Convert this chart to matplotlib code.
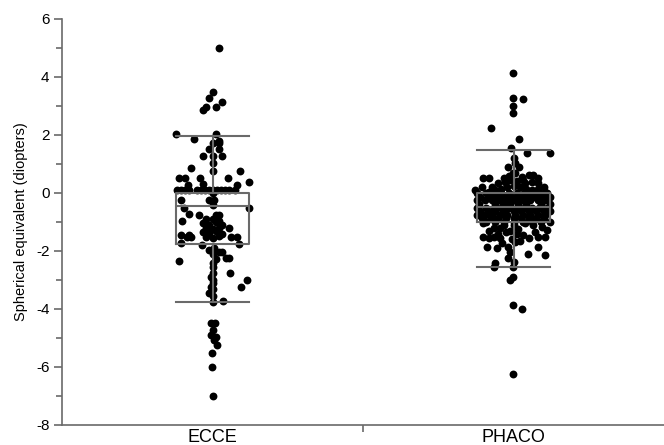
import numpy as np
import matplotlib
matplotlib.use('Agg')
import matplotlib.pyplot as plt
from matplotlib.ticker import MultipleLocator, FixedLocator

plt.rcParams['font.family'] = ['Liberation Sans', 'DejaVu Sans']

groups = ['ECCE', 'PHACO']

# box statistics
box_q1 = [-1.77, -0.99]
box_med = [-0.44, -0.47]
box_q3 = [0.0, 0.0]
whisk_lo = [-3.75, -2.54]
whisk_hi = [1.95, 1.5]

# (horizontal jitter, spherical equivalent) for each eye
ecce_points = [
    (0.02, 5.0), (0.0, 3.5), (-0.01, 3.26), (0.03, 3.13), (0.01, 2.98),
    (-0.02, 2.98), (-0.03, 2.86), (-0.12, 2.02), (-0.06, 1.86), (0.01, 2.03),
    (0.02, 1.8), (0.0, 1.71), (0.02, 1.71), (-0.01, 1.51), (0.02, 1.51),
    (-0.03, 1.28), (0.0, 1.28), (0.03, 1.28), (0.0, 1.02), (-0.07, 0.87),
    (0.0, 0.76), (0.09, 0.76), (-0.11, 0.51), (-0.09, 0.51), (-0.04, 0.51),
    (0.05, 0.51), (0.12, 0.39), (-0.08, 0.28), (-0.03, 0.3), (0.08, 0.28),
    (-0.118, 0.1), (-0.105, 0.1), (-0.09, 0.1), (-0.078, 0.1), (-0.05, 0.1),
    (-0.038, 0.1), (-0.025, 0.1), (-0.012, 0.1), (0.0, 0.1), (0.015, 0.1),
    (0.028, 0.1), (0.04, 0.1), (0.055, 0.1), (0.075, 0.1), (0.0, 0.0),
    (-0.106, -0.24), (-0.01, -0.24), (0.005, -0.24), (-0.094, -0.53), (0.0, -0.41),
    (0.12, -0.5), (-0.078, -0.73), (-0.045, -0.76), (0.01, -0.76), (0.02, -0.76),
    (-0.1, -0.97), (-0.02, -0.9), (0.0, -0.88), (0.02, -0.95), (-0.03, -1.05),
    (-0.01, -1.1), (0.01, -1.0), (0.03, -1.12), (-0.02, -1.2), (0.0, -1.25),
    (0.02, -1.22), (-0.03, -1.35), (-0.01, -1.38), (0.01, -1.3), (0.03, -1.4),
    (-0.02, -1.5), (0.0, -1.55), (0.02, -1.48), (0.055, -1.22), (-0.084, -1.51),
    (-0.073, -1.51), (0.06, -1.51), (0.082, -1.51), (-0.106, -1.73), (0.088, -1.77),
    (-0.034, -1.8), (-0.012, -1.97), (0.005, -1.9), (0.033, -2.02), (0.055, -2.23),
    (-0.11, -2.34), (0.044, -2.23), (-0.106, -1.45), (-0.078, -1.45), (0.022, -2.02),
    (0.01, -2.29), (0.058, -2.75), (0.0, -2.54), (0.0, -2.77), (0.0, -3.0),
    (0.115, -3.0), (0.095, -3.25), (-0.006, -3.23), (-0.012, -3.46), (0.0, -3.75),
    (0.035, -3.72), (-0.006, -4.49), (0.007, -4.49), (0.0, -4.72), (-0.006, -4.9),
    (0.01, -4.95), (0.005, -5.07), (0.016, -5.24), (-0.003, -5.5), (-0.003, -5.99),
    (0.003, -6.99), (0.0, -2.1), (0.0, -2.4), (0.0, -3.1), (0.0, -3.3),
    (0.0, -3.55), (-0.005, -2.9),
]

phaco_points = [
    (-0.003, 4.13), (-0.003, 3.27), (0.033, 3.24), (-0.003, 3.01), (-0.003, 2.75),
    (-0.075, 2.25), (0.017, 1.86), (-0.008, 1.54), (0.044, 1.37), (0.12, 1.37),
    (0.0, 1.2), (0.006, 1.02), (-0.017, 0.91), (0.017, 0.91), (-0.1, 0.51),
    (-0.083, 0.51), (-0.003, 0.68), (0.006, 0.68), (-0.033, 0.51), (0.028, 0.56),
    (0.05, 0.62), (0.066, 0.62), (0.083, 0.51), (-0.127, 0.1), (-0.106, 0.22),
    (-0.073, 0.22), (-0.05, 0.33), (-0.028, 0.39), (0.039, 0.33), (0.06, 0.39),
    (0.083, 0.33), (0.105, 0.04), (-0.01, 0.45), (0.01, 0.4), (-0.04, 0.15),
    (-0.02, 0.2), (0.0, 0.25), (0.02, 0.2), (0.04, 0.15), (0.06, 0.1),
    (0.08, 0.15), (-0.06, 0.1), (-0.08, 0.05), (0.1, 0.2), (0.03, 0.45),
    (-0.015, 0.6),
    # dense block inside the box
    (-0.12, 0.0), (-0.09, 0.0), (-0.065, 0.0), (-0.04, 0.0), (-0.015, 0.0),
    (0.01, 0.0), (0.035, 0.0), (0.06, 0.0), (0.085, 0.0), (0.11, 0.0),
    (-0.11, -0.125), (-0.08, -0.125), (-0.055, -0.125), (-0.03, -0.125), (-0.005, -0.125),
    (0.02, -0.125), (0.045, -0.125), (0.07, -0.125), (0.095, -0.125), (0.12, -0.125),
    (-0.12, -0.25), (-0.095, -0.25), (-0.07, -0.25), (-0.045, -0.25), (-0.02, -0.25),
    (0.005, -0.25), (0.03, -0.25), (0.055, -0.25), (0.08, -0.25), (0.105, -0.25),
    (-0.115, -0.375), (-0.06, -0.375), (-0.035, -0.375), (-0.01, -0.375), (0.015, -0.375),
    (0.04, -0.375), (0.09, -0.375), (0.12, -0.375),
    (-0.12, -0.5), (-0.09, -0.5), (-0.065, -0.5), (-0.04, -0.5), (-0.015, -0.5),
    (0.01, -0.5), (0.035, -0.5), (0.06, -0.5), (0.085, -0.5), (0.11, -0.5),
    (-0.11, -0.625), (-0.085, -0.625), (-0.06, -0.625), (-0.03, -0.625), (0.0, -0.625),
    (0.025, -0.625), (0.05, -0.625), (0.075, -0.625), (0.1, -0.625), (0.12, -0.625),
    (-0.12, -0.75), (-0.095, -0.75), (-0.07, -0.75), (-0.045, -0.75), (-0.02, -0.75),
    (0.005, -0.75), (0.03, -0.75), (0.055, -0.75), (0.08, -0.75), (0.105, -0.75),
    (-0.105, -0.875), (-0.075, -0.875), (-0.05, -0.875), (-0.025, -0.875), (0.0, -0.875),
    (0.025, -0.875), (0.05, -0.875), (0.075, -0.875), (0.1, -0.875),
    (-0.09, -1.0), (-0.06, -1.0), (-0.03, -1.0), (0.0, -1.0), (0.03, -1.0),
    (0.06, -1.0), (0.09, -1.0), (0.12, -1.0),
    # below the box
    (-0.1, -1.04), (-0.066, -1.2), (-0.044, -1.2), (0.039, -1.04), (0.066, -1.1),
    (0.094, -1.16), (0.11, -1.28), (-0.1, -1.5), (-0.083, -1.56), (-0.066, -1.5),
    (-0.044, -1.56), (-0.089, -1.85), (-0.055, -1.9), (-0.039, -1.73), (0.05, -1.56),
    (0.083, -1.5), (0.105, -1.5), (0.083, -1.85), (0.105, -2.14), (0.048, -2.11),
    (-0.017, -1.85), (-0.011, -2.02), (-0.017, -2.25), (0.0, -2.37), (-0.061, -2.42),
    (-0.066, -2.54), (-0.003, -2.54), (-0.003, -2.89), (-0.011, -3.0), (-0.003, -3.86),
    (0.028, -4.0), (-0.003, -6.24), (0.0, -1.1), (-0.01, -1.3), (0.01, -1.4),
    (-0.005, -1.6), (0.005, -1.7), (0.015, -1.25), (-0.025, -1.35), (0.03, -1.45),
    (0.02, -1.65), (-0.03, -1.1), (-0.08, -1.3), (-0.05, -1.4), (0.07, -1.35),
]

fig = plt.figure(figsize=(6.64, 4.45), dpi=100)
ax = fig.add_axes([62 / 664, 20 / 445, 602 / 664, 406 / 445])

for i, pts in enumerate([ecce_points, phaco_points]):
    off, val = zip(*pts)
    ax.scatter(np.array(off) + i + 1, val, s=32, c='black', linewidths=0, zorder=2)

stats = []
for i in range(2):
    stats.append({'med': box_med[i], 'q1': box_q1[i], 'q3': box_q3[i],
                  'whislo': whisk_lo[i], 'whishi': whisk_hi[i], 'fliers': []})

gray = '#6a6a6a'
lp = dict(color=gray, linewidth=1.5)
ax.bxp(stats, positions=[1, 2], widths=0.245, showfliers=False,
       boxprops=lp, whiskerprops=lp, capprops=lp, medianprops=lp,
       capwidths=0.245, zorder=3)

ax.set_xlim(0.5, 2.5)
ax.set_ylim(-8, 6)
ax.spines['top'].set_visible(False)
ax.spines['right'].set_visible(False)
for s in ['left', 'bottom']:
    ax.spines[s].set_color(gray)
    ax.spines[s].set_linewidth(1.2)

ax.xaxis.set_major_locator(FixedLocator([1, 2]))
ax.set_xticklabels(groups, fontsize=13)
ax.xaxis.set_minor_locator(FixedLocator([1.5]))
ax.tick_params(axis='x', which='major', length=0, pad=3)
ax.tick_params(axis='x', which='minor', length=5, width=1.2, color=gray)

ax.yaxis.set_major_locator(MultipleLocator(2))
ax.yaxis.set_minor_locator(MultipleLocator(1))
ax.tick_params(axis='y', which='major', length=6, width=1.2, color=gray, labelsize=11, pad=3)
ax.tick_params(axis='y', which='minor', length=4, width=1.2, color=gray)
ax.set_yticklabels([f'{int(v)}' for v in ax.get_yticks()])
ax.set_ylabel('Spherical equivalent (diopters)', fontsize=10.5, labelpad=6)

fig.savefig('out.png', dpi=100)
